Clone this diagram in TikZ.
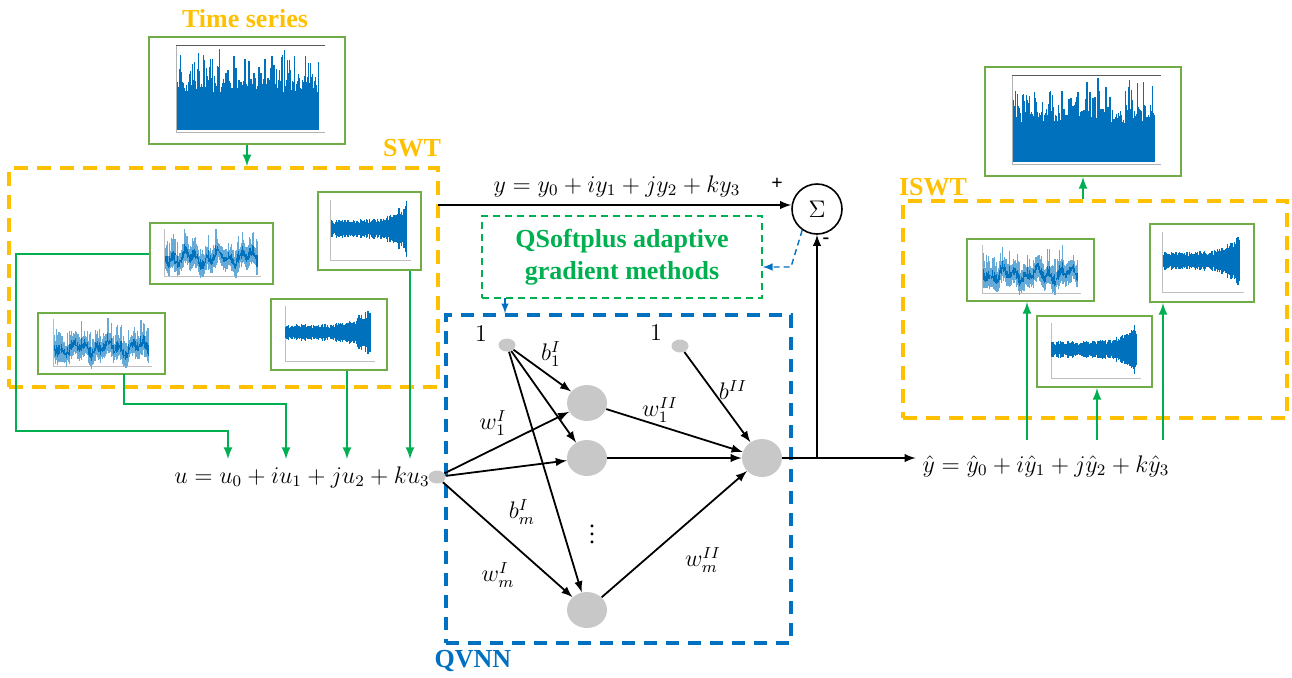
\documentclass[tikz,border=0pt]{standalone}
\usepackage{fontspec}
\setmainfont{Liberation Serif}
\usetikzlibrary{arrows,shapes.geometric}

\definecolor{orangeline}{RGB}{255,192,0}
\definecolor{frameg}{RGB}{112,173,71}
\definecolor{arrowg}{RGB}{0,176,80}
\definecolor{qblue}{RGB}{0,112,192}
\definecolor{sigblue}{RGB}{0,114,189}
\definecolor{nodegray}{RGB}{200,200,200}

\tikzset{
  plotframe/.style={draw=frameg, line width=1pt, fill=white, inner sep=0pt},
  obox/.style={draw=orangeline, line width=1.8pt, dash pattern=on 7pt off 4.5pt, inner sep=0pt},
  bbox/.style={draw=qblue, line width=1.7pt, dash pattern=on 6.5pt off 4.5pt, inner sep=0pt},
  gdbox/.style={draw=arrowg, line width=0.7pt, dash pattern=on 3.5pt off 2.5pt, inner sep=0pt,
    text=arrowg, font=\fontsize{13}{16}\selectfont\bfseries},
  otitle/.style={text=orangeline, font=\fontsize{13}{15}\selectfont\bfseries},
  gline/.style={draw=arrowg, line width=1pt},
  garrow/.style={gline, ->},
  bdarrow/.style={draw=qblue, line width=0.7pt, dash pattern=on 3pt off 2pt, ->},
  neuron/.style={ellipse, fill=nodegray, minimum width=20pt, minimum height=18pt, inner sep=0pt},
  smallnode/.style={ellipse, fill=nodegray, minimum width=8.5pt, minimum height=6.5pt, inner sep=0pt},
  link/.style={->, line width=0.9pt},
  sign/.style={font=\fontsize{10}{12}\selectfont\bfseries}
}

% framed signal plot: name, left, top, right, bottom (pixels), kind (1 series, 2 approx, 3 detail)
\newcommand{\sigplot}[6]{%
  \node[plotframe, minimum width={(#4-#2)*0.5pt}, minimum height={(#5-#3)*0.5pt}] (#1) at ({(#2+#4)/2},{(#3+#5)/2}) {};
  \pgfmathsetmacro\plw{#4-#2}
  \pgfmathsetmacro\plh{#5-#3}
  \begin{scope}[shift={(#2,#3)}]
  \ifcase#6\relax\or
    \draw[gray!60, line width=0.3pt] (0.14*\plw,0.08*\plh) -- (0.14*\plw,0.89*\plh) -- (0.9*\plw,0.89*\plh);
    \draw[gray!70!black, line width=0.6pt] (0.14*\plw,0.08*\plh) -- (0.9*\plw,0.08*\plh);
    \foreach \k in {0,...,140}{
      \pgfmathsetmacro\xx{(0.145+0.72*\k/140)*\plw}
      \pgfmathsetmacro\ra{rnd}\pgfmathsetmacro\rb{rnd}
      \pgfmathsetmacro\yy{(0.87-0.78*(0.45+0.15*\ra+0.4*\rb*\rb*\rb))*\plh}
      \draw[sigblue, line width=0.7pt] (\xx,0.87*\plh) -- (\xx,\yy);
    }
  \or
    \draw[gray!50, line width=0.3pt] (0.12*\plw,0.1*\plh) -- (0.12*\plw,0.88*\plh) -- (0.9*\plw,0.88*\plh);
    \foreach \k in {0,...,100}{
      \pgfmathsetmacro\xx{(0.13+0.74*\k/100)*\plw}
      \pgfmathsetmacro\cc{0.58+0.07*sin(\k*11)+0.06*sin(\k*29+40)}
      \pgfmathsetmacro\ra{rnd}\pgfmathsetmacro\rb{rnd}
      \draw[sigblue!60, line width=0.6pt] (\xx,{(\cc+0.1+0.12*\rb)*\plh}) -- (\xx,{(\cc-0.12-0.3*\ra*\ra)*\plh});
      \draw[sigblue, line width=0.6pt] (\xx,{(\cc+0.08*\rb)*\plh}) -- (\xx,{(\cc-0.14*\ra)*\plh});
    }
  \or
    \draw[gray!50, line width=0.3pt] (0.12*\plw,0.1*\plh) -- (0.12*\plw,0.88*\plh) -- (0.9*\plw,0.88*\plh);
    \foreach \k in {0,...,100}{
      \pgfmathsetmacro\xx{(0.13+0.73*\k/100)*\plw}
      \pgfmathsetmacro\ra{rnd}\pgfmathsetmacro\rb{rnd}
      \pgfmathsetmacro\am{0.06+0.06*\ra+0.26*(\k/100)^5*(0.4+0.6*\rb)}
      \draw[sigblue, line width=0.6pt] (\xx,{(0.47-\am)*\plh}) -- (\xx,{(0.47+\am)*\plh});
    }
  \fi
  \end{scope}
}

\begin{document}
\begin{tikzpicture}[>=latex, x=0.5pt, y=-0.5pt, font=\fontsize{12}{14}\selectfont]
  \pgfmathsetseed{7}
  \useasboundingbox (0,0) rectangle (1292,677);

  % stage boxes
  \node[obox, minimum width=214.5pt, minimum height=109.5pt] (swt) at (223.5,277.5) {};
  \node[obox, minimum width=192pt, minimum height=108.5pt] (iswt) at (1095,309.5) {};
  \node[bbox, minimum width=172.5pt, minimum height=164pt] (qvnn) at (618.5,479) {};
  \node[gdbox, minimum width=140pt, minimum height=41pt, align=center] (grad) at (622,257)
    {QSoftplus adaptive\\gradient methods};

  \node[otitle] (tstitle) at (245,19) {Time series};
  \node[otitle] (swttitle) at (412,148) {SWT};
  \node[otitle] (iswttitle) at (933,187) {ISWT};
  \node[text=qblue, font=\fontsize{13}{15}\selectfont\bfseries] (qvnntitle) at (473,661) {QVNN};

  % signals
  \sigplot{ts}{149}{37}{345}{144}{1}
  \sigplot{swtA}{150}{223}{273}{284}{2}
  \sigplot{swtB}{318}{192}{421}{270}{3}
  \sigplot{swtC}{38}{313}{165}{374}{2}
  \sigplot{swtD}{271}{299}{387}{370}{3}
  \sigplot{rec}{985}{67}{1181}{176}{1}
  \sigplot{iswtA}{967}{239}{1094}{301}{2}
  \sigplot{iswtB}{1150}{224}{1254}{302}{3}
  \sigplot{iswtC}{1037}{316}{1152}{387}{3}

  % quaternion signals
  \node (uform) at (302,477) {$u = u_0 + iu_1 + ju_2 + ku_3$};
  \node (yform) at (617,186) {$y = y_0 + iy_1 + jy_2 + ky_3$};
  \node (yhat) at (1046,466) {$\hat{y} = \hat{y}_0 + i\hat{y}_1 + j\hat{y}_2 + k\hat{y}_3$};

  % network
  \node[smallnode] (in) at (437,477) {};
  \node[smallnode] (b1) at (507,345) {};
  \node[smallnode] (b2) at (680,346) {};
  \node[neuron] (h1) at (587,403) {};
  \node[neuron] (h2) at (587,458) {};
  \node[neuron] (hm) at (587,610) {};
  \node[neuron, minimum height=19pt] (out) at (762,458) {};
  \node (vdots) at (592,528) {$\vdots$};
  \node (one1) at (481,334) {$1$};
  \node (one2) at (656,333) {$1$};
  \foreach \h in {h1,h2,hm}{
    \draw[link] (in) -- (\h);
    \draw[link] (b1) -- (\h);
    \draw[link] (\h) -- (out);
  }
  \draw[link] (b2) -- (out);
  \node (lb1) at (551,354) {$b_1^{I}$};
  \node (lw1) at (493,423) {$w_1^{I}$};
  \node (lbm) at (522,512) {$b_m^{I}$};
  \node (lwm) at (498,575) {$w_m^{I}$};
  \node (lw1b) at (660,410) {$w_1^{II}$};
  \node (lbb) at (733,390) {$b^{II}$};
  \node (lwmb) at (703,560) {$w_m^{II}$};

  % error feedback
  \node[circle, draw, line width=0.8pt, minimum size=25pt, inner sep=0pt] (sum) at (817,209) {$\Sigma$};
  \node[sign] (plus) at (777,184) {+};
  \node[sign] (minus) at (826,241) {-};
  \coordinate (swtout) at (438,205);
  \draw[link] (swtout) -- (sum.west |- swtout);
  \coordinate (split) at (817,458);
  \draw[link] (out) -- (out -| yhat.west);
  \draw[link] (split) -- (sum);
  \coordinate (bend) at (791,267);
  \draw[bdarrow] (sum.235) -- (bend) -- (bend -| grad.east);
  \coordinate (gradfoot) at (505,298);
  \draw[bdarrow] (gradfoot) -- (gradfoot |- qvnn.north);

  % decomposition taps
  \draw[garrow] (ts.south) -- (ts.south |- swt.north);
  \coordinate (u0) at (228,459);
  \coordinate (u1) at (286,459);
  \coordinate (u2) at (347,459);
  \coordinate (u3) at (410,459);
  \coordinate (tapC) at (124,374);
  \draw[garrow] (swtA.west) -| (16,431) -| (u0);
  \draw[garrow] (tapC) |- ++(0,30) -| (u1);
  \draw[garrow] (u2 |- swtD.south) -- (u2);
  \draw[garrow] (u3 |- swtB.south) -- (u3);

  % reconstruction taps
  \coordinate (v1) at (1027,440);
  \coordinate (v2) at (1097,440);
  \coordinate (v3) at (1163,440);
  \draw[garrow] (v1) -- (v1 |- iswtA.south);
  \draw[garrow] (v2) -- (v2 |- iswtC.south);
  \draw[garrow] (v3) -- (v3 |- iswtB.south);
  \draw[garrow] (rec.south |- iswt.north) -- (rec.south);
\end{tikzpicture}
\end{document}
